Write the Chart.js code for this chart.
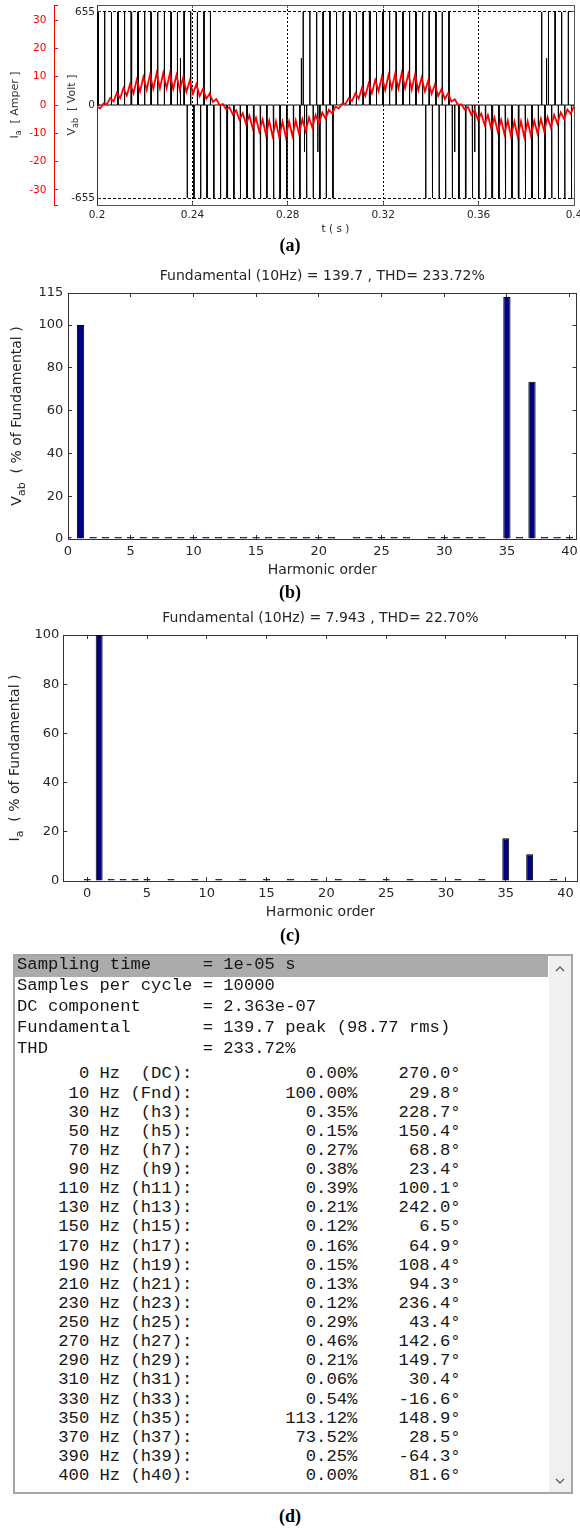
<!DOCTYPE html>
<html>
<head>
<meta charset="utf-8">
<title>Inverter waveforms and FFT</title>
<script src="https://cdn.jsdelivr.net/npm/chart.js@4.4.1/dist/chart.umd.min.js"></script>
<style>
  html, body { margin: 0; padding: 0; background: #fff; }
  body { position: relative; width: 580px; height: 1530px; overflow: hidden; }
  canvas { position: absolute; left: 0; }
  .cap { position: absolute; left: 0; width: 580px; text-align: center;
         font: bold 18px "Liberation Serif", serif; line-height: 20px; color: #000; }
  #fft { position: absolute; left: 13px; top: 954px; width: 560px; height: 540px;
         box-sizing: border-box; border: 2px solid #a6a6a6; background: #fff; overflow: hidden;
         font: 17.2px "Liberation Mono", monospace; color: #161616; }
  #fft .sel { position: absolute; left: 0; top: 0; width: 533px; height: 21px; background: #ababab; }
  #fft .bar { position: absolute; right: 0; top: 0; width: 22px; height: 100%; background: #f0f0f0; }
  #fft .bar svg { position: absolute; left: 6px; }
  #fft .rows { position: absolute; left: 2px; white-space: pre; }
</style>
</head>
<body>
<canvas id="waveChart" width="580" height="236" style="top:0px"></canvas>
<div class="cap" style="top:235px">(a)</div>
<canvas id="vabChart" width="580" height="321" style="top:258px"></canvas>
<div class="cap" style="top:582px">(b)</div>
<canvas id="iaChart" width="580" height="321" style="top:600px"></canvas>
<div class="cap" style="top:925px">(c)</div>
<div id="fft">
  <div class="sel"></div>
  <div class="bar">
    <svg width="10" height="7" style="top:9px"><polyline points="1,6 5,2 9,6" fill="none" stroke="#606060" stroke-width="1.4"/></svg>
    <svg width="10" height="7" style="top:522px"><polyline points="1,1 5,5 9,1" fill="none" stroke="#606060" stroke-width="1.4"/></svg>
  </div>
  <div class="rows" id="fftHead" style="top:-0.7px; line-height:20.8px"></div>
  <div class="rows" id="fftList" style="top:108.4px; line-height:19.12px"></div>
</div>
<div class="cap" style="top:1506px">(d)</div>

<script>
// ---- time-domain traces, 0.2 .. 0.4 s ----
const dcLinkVoltage = 655;
const timeTicks = [0.2, 0.24, 0.28, 0.32, 0.36, 0.4];
const voltTicks = [-655, 0, 655];
const currentTicks = [-30, -20, -10, 0, 10, 20, 30];

// switching pulses of Vab: [start time (s), width (s)]
const posPulses = [
  [0.2003, 0.0002], [0.2031, 0.0002], [0.2059, 0.00025], [0.2086, 0.00025], [0.2114, 0.00025], [0.2142, 0.0003],
  [0.2170, 0.0003], [0.2198, 0.0003], [0.2225, 0.0003], [0.2253, 0.00025], [0.2281, 0.00025], [0.2309, 0.00025],
  [0.2336, 0.0002], [0.2364, 0.0002], [0.2392, 0.00015], [0.2420, 0.00015], [0.2448, 0.0001], [0.2475, 0.0001],
  [0.2864, 0.0001], [0.2892, 0.0001], [0.2920, 0.00015], [0.2947, 0.00015], [0.2975, 0.0002], [0.3003, 0.0002],
  [0.3031, 0.00025], [0.3059, 0.00025], [0.3086, 0.00025], [0.3114, 0.0003], [0.3142, 0.0003], [0.3170, 0.0003],
  [0.3197, 0.0003], [0.3225, 0.0003], [0.3253, 0.00025], [0.3281, 0.00025], [0.3309, 0.00025], [0.3336, 0.0002],
  [0.3364, 0.0002], [0.3392, 0.00015], [0.3420, 0.00015], [0.3447, 0.0001], [0.3475, 0.0001],
  [0.3864, 0.0001], [0.3892, 0.00015], [0.3920, 0.00015], [0.3947, 0.0002], [0.3975, 0.0002]
];
const negPulses = [
  [0.2378, 0.0001], [0.2406, 0.0001], [0.2434, 0.00015], [0.2461, 0.00015], [0.2489, 0.0002], [0.2517, 0.0002],
  [0.2545, 0.00025], [0.2573, 0.00025], [0.2600, 0.00025], [0.2628, 0.0003], [0.2656, 0.0003], [0.2684, 0.0003],
  [0.2711, 0.0003], [0.2739, 0.0003], [0.2767, 0.00025], [0.2795, 0.00025], [0.2823, 0.00025], [0.2850, 0.0002],
  [0.2878, 0.0002], [0.2906, 0.00015], [0.2934, 0.00015], [0.2961, 0.0001], [0.2989, 0.0001],
  [0.3378, 0.0001], [0.3406, 0.0001], [0.3434, 0.00015], [0.3461, 0.00015], [0.3489, 0.0002], [0.3517, 0.0002],
  [0.3545, 0.00025], [0.3573, 0.00025], [0.3600, 0.00025], [0.3628, 0.0003], [0.3656, 0.0003], [0.3684, 0.0003],
  [0.3711, 0.0003], [0.3739, 0.0003], [0.3767, 0.00025], [0.3795, 0.00025], [0.3823, 0.00025], [0.3850, 0.0002],
  [0.3878, 0.0002], [0.3906, 0.00015], [0.3934, 0.00015], [0.3961, 0.0001], [0.3989, 0.0001]
];
// short half-height spikes: [time (s), level (V)]
const spikes = [[0.2350, 330], [0.2857, 330], [0.2870, -330], [0.2926, -330], [0.3500, -330], [0.3584, -330], [0.3885, 330]];

// phase current Ia (A), sampled every 1/720 s from 0.2 s
const sampleStep = 1 / 720;
const phaseCurrent = [
  -0.6, -1.2,
  0.6, 0.3, 2.5, 1.3, 4.3, 2.4, 6.0, 3.3, 7.5, 4.1, 8.9, 4.8, 9.9, 5.4, 10.7, 5.7,
  11.2, 5.9, 11.3, 5.9, 11.1, 5.6, 10.6, 5.3, 9.7, 4.7, 8.6, 4.0, 7.3, 3.1, 5.7, 2.2, 4.0, 1.1, 2.1, 0.0,
  0.3, -1.5, -0.8, -3.4, -1.9, -5.2, -2.9, -6.8, -3.7, -8.2, -4.5, -9.4, -5.1, -10.4, -5.6, -11.0,
  -5.8, -11.3, -5.9, -11.3, -5.8, -10.9, -5.5, -10.2, -5.0, -9.2, -4.4, -8.0, -3.6, -6.5, -2.7, -4.8, -1.7, -3.0, -0.6, -1.2,
  0.5, 0.4, 2.4, 1.4, 4.2, 2.3, 6.1, 3.2, 7.6, 4.2, 8.8, 4.9, 10.0, 5.3, 10.6, 5.8,
  11.1, 5.8, 11.4, 6.0, 11.0, 5.5, 10.7, 5.2, 9.6, 4.8, 8.7, 3.9, 7.2, 3.2, 5.6, 2.1, 4.1, 1.2, 2.0, 0.1,
  0.2, -1.6, -0.7, -3.5, -1.8, -5.1, -3.0, -6.9, -3.6, -8.3, -4.4, -9.5, -5.2, -10.3, -5.5, -11.1,
  -5.9, -11.2, -5.8, -11.4, -5.7, -10.8, -5.6, -10.1, -4.9, -9.3, -4.3, -7.9, -3.5, -6.6, -2.6, -4.9, -1.6, -3.1, -0.5
];

// ---- FFT of Vab (table listing) ----
const samplingInfo = [
  ['Sampling time', '1e-05 s'],
  ['Samples per cycle', '10000'],
  ['DC component', '2.363e-07'],
  ['Fundamental', '139.7 peak (98.77 rms)'],
  ['THD', '233.72%']
];
const harmonicFreq = [0, 10, 30, 50, 70, 90, 110, 130, 150, 170, 190, 210, 230, 250, 270, 290, 310, 330, 350, 370, 390, 400];
const harmonicName = ['DC', 'Fnd', 'h3', 'h5', 'h7', 'h9', 'h11', 'h13', 'h15', 'h17', 'h19', 'h21', 'h23', 'h25', 'h27', 'h29', 'h31', 'h33', 'h35', 'h37', 'h39', 'h40'];
const vabMag = [0.00, 100.00, 0.35, 0.15, 0.27, 0.38, 0.39, 0.21, 0.12, 0.16, 0.15, 0.13, 0.12, 0.29, 0.46, 0.21, 0.06, 0.54, 113.12, 73.52, 0.25, 0.00];
const vabPhase = [270.0, 29.8, 228.7, 150.4, 68.8, 23.4, 100.1, 242.0, 6.5, 64.9, 108.4, 94.3, 236.4, 43.4, 142.6, 149.7, 30.4, -16.6, 148.9, 28.5, -64.3, 81.6];

// ---- bar spectra, harmonic orders 0..40 ----
const harmonicOrder = [0, 1, 2, 3, 4, 5, 6, 7, 8, 9, 10, 11, 12, 13, 14, 15, 16, 17, 18, 19, 20,
  21, 22, 23, 24, 25, 26, 27, 28, 29, 30, 31, 32, 33, 34, 35, 36, 37, 38, 39, 40];
const orderTicks = [0, 5, 10, 15, 20, 25, 30, 35, 40];
// even orders of Vab are not in the listing, only tiny stubs on the plot
const vabEvenPct = [null, null, 0.05, null, 0.04, null, 0.05, null, 0.04, null, 0.05, null, 0.04, null, 0.05, null, 0.04, null, 0.05, null, 0.04,
  null, null, null, 0.05, null, 0.04, null, null, null, 0.05, null, 0.04, null, null, null, 0.05, null, 0.04, null, null];
const iaPct = [0.02, 100, 0.1, 0.1, 0.1, 0.05, null, 0.05, null, 0.05, null, 0.04, null, 0.03, null, 0.02, null, 0.02, null, 0.02, null,
  0.02, null, 0.01, null, 0.02, null, 0.03, null, 0.01, null, 0.01, null, 0.03, null, 17.4, null, 10.9, null, 0.01, null];
const vabFundamental = 139.7, vabThd = 233.72;
const iaFundamental = 7.943, iaThd = 22.70;

Chart.defaults.font.family = "'DejaVu Sans', sans-serif";
Chart.defaults.color = '#262626';

// rotated y captions that need a subscript
function rotatedLabel(items) {
  return {
    id: 'rotatedLabel',
    afterDraw(chart) {
      const ctx = chart.ctx;
      const midY = (chart.chartArea.top + chart.chartArea.bottom) / 2;
      items.forEach(item => {
        const big = item.size + "px 'DejaVu Sans'";
        const small = Math.round(item.size * 0.75) + "px 'DejaVu Sans'";
        ctx.save();
        ctx.translate(item.x, midY);
        ctx.rotate(-Math.PI / 2);
        ctx.fillStyle = item.color;
        ctx.textBaseline = 'middle';
        ctx.textAlign = 'left';
        let total = 0;
        item.parts.forEach(p => { ctx.font = p.sub ? small : big; total += ctx.measureText(p.text).width; });
        let pos = -total / 2;
        item.parts.forEach(p => {
          ctx.font = p.sub ? small : big;
          ctx.fillText(p.text, pos, p.sub ? item.size * 0.38 : 0);
          pos += ctx.measureText(p.text).width;
        });
        ctx.restore();
      });
    }
  };
}

// fixed axis boxes, and no extra room reserved for half-width end labels
const fixHeight = h => s => { s.height = h; s.paddingLeft = 0; s.paddingRight = 0; };
const fixWidth = w => s => { s.width = w; s.paddingTop = 0; s.paddingBottom = 0; };

// voltage trace as a polyline with vertical switching edges
const pulseEvents = [
  ...posPulses.map(([t, w]) => ({ t, w, v: dcLinkVoltage })),
  ...negPulses.map(([t, w]) => ({ t, w, v: -dcLinkVoltage })),
  ...spikes.map(([t, v]) => ({ t, w: 0, v }))
].sort((a, b) => a.t - b.t);
const voltagePoints = [{ x: 0.2, y: 0 }];
pulseEvents.forEach(e => {
  voltagePoints.push({ x: e.t, y: 0 }, { x: e.t, y: e.v }, { x: e.t + e.w, y: e.v }, { x: e.t + e.w, y: 0 });
});
voltagePoints.push({ x: 0.4, y: 0 });
const currentPoints = phaseCurrent.map((v, k) => ({ x: 0.2 + k * sampleStep, y: v }));

const tickFontA = { size: 10.5 };
const frameGrey = '#555555';
const clear = 'rgba(0,0,0,0)';

new Chart(document.getElementById('waveChart'), {
  type: 'line',
  data: {
    datasets: [
      { data: currentPoints, yAxisID: 'yI', borderColor: '#ff0000', borderWidth: 1.8, pointRadius: 0, tension: 0 },
      { data: voltagePoints, yAxisID: 'y', borderColor: '#000000', borderWidth: 1, pointRadius: 0, tension: 0 }
    ]
  },
  options: {
    responsive: false, animation: false, devicePixelRatio: 1, events: [],
    layout: { padding: { top: 5, right: 6, left: 0, bottom: 0 } },
    plugins: { legend: { display: false }, tooltip: { enabled: false } },
    scales: {
      x: {
        type: 'linear', position: 'bottom', min: 0.2, max: 0.4,
        afterBuildTicks: s => { s.ticks = timeTicks.map(v => ({ value: v })); },
        afterFit: fixHeight(31),
        ticks: { font: tickFontA, padding: 7.4, maxRotation: 0, autoSkip: false,
                 callback: v => String(Number(v.toFixed(2))) },
        grid: { color: c => (c.tick && c.tick.value > 0.201 && c.tick.value < 0.399) ? '#000' : clear,
                tickColor: frameGrey, tickLength: -3 },
        border: { color: frameGrey, dash: [2, 2] },
        title: { display: true, text: 't ( s )', font: { size: 10.5 }, padding: { top: 0, bottom: 0 } }
      },
      xTop: {
        type: 'linear', position: 'top', min: 0.2, max: 0.4,
        afterBuildTicks: s => { s.ticks = timeTicks.map(v => ({ value: v })); },
        afterFit: fixHeight(0),
        ticks: { display: false },
        grid: { drawOnChartArea: false, color: frameGrey, tickLength: -3 },
        border: { color: frameGrey }
      },
      y: {
        type: 'linear', position: 'left', weight: 0, min: -704, max: 704,
        afterBuildTicks: s => { s.ticks = voltTicks.map(v => ({ value: v })); },
        afterFit: fixWidth(43),
        ticks: { font: tickFontA, padding: 5, callback: v => String(v) },
        grid: { color: c => (c.tick && c.tick.value !== 0) ? '#000' : clear, tickColor: frameGrey, tickLength: -3 },
        border: { color: '#333333', dash: [3, 2] }
      },
      yRight: {
        type: 'linear', position: 'right', min: -704, max: 704,
        afterBuildTicks: s => { s.ticks = voltTicks.map(v => ({ value: v })); },
        afterFit: fixWidth(0),
        ticks: { display: false },
        grid: { drawOnChartArea: false, color: frameGrey, tickLength: -3 },
        border: { color: frameGrey }
      },
      yI: {
        type: 'linear', position: 'left', weight: 1, min: -35.3, max: 35.3,
        afterBuildTicks: s => { s.ticks = [-35.3, ...currentTicks, 35.3].map(v => ({ value: v })); },
        afterFit: fixWidth(54),
        ticks: { font: tickFontA, color: '#ff0000', padding: 11.6,
                 callback: v => currentTicks.includes(v) ? String(v) : '' },
        grid: { drawOnChartArea: false, color: '#ff0000', tickLength: -4 },
        border: { color: '#ff0000' }
      }
    }
  },
  plugins: [rotatedLabel([
    { x: 15, size: 11, color: '#333333', parts: [{ text: 'I' }, { text: 'a', sub: true }, { text: '  [ Amper ]' }] },
    { x: 72, size: 11, color: '#333333', parts: [{ text: 'V' }, { text: 'ab', sub: true }, { text: '  [ Volt ]' }] }
  ])]
});

// spectrum bar chart, harmonic order on a linear axis
function harmonicChart(canvasId, values, cfg) {
  const axisLine = '#333333';
  return new Chart(document.getElementById(canvasId), {
    type: 'bar',
    data: {
      datasets: [{
        data: harmonicOrder.map((h, i) => ({ x: h, y: values[i] })),
        backgroundColor: '#000080', borderColor: '#000000', borderWidth: 1,
        categoryPercentage: 1, barPercentage: 0.58, minBarLength: 2
      }]
    },
    options: {
      responsive: false, animation: false, devicePixelRatio: 1, events: [],
      layout: { padding: { top: 0, right: cfg.padRight, left: 0, bottom: 0 } },
      plugins: {
        legend: { display: false }, tooltip: { enabled: false },
        title: { display: true, text: cfg.title, fullSize: false, color: '#262626',
                 font: { size: 14, weight: 'normal' }, padding: { top: 10.1, bottom: 8.1 } }
      },
      scales: {
        x: {
          type: 'linear', position: 'bottom', min: cfg.xMin, max: cfg.xMax, offset: false,
          afterBuildTicks: s => { s.ticks = orderTicks.map(v => ({ value: v })); },
          afterFit: fixHeight(40),
          ticks: { font: { size: 13 }, padding: 8.9, maxRotation: 0, autoSkip: false },
          grid: { offset: false, drawOnChartArea: false, color: axisLine, tickLength: -4 },
          border: { color: axisLine },
          title: { display: true, text: 'Harmonic order', font: { size: 14 }, padding: { top: 0, bottom: 0.6 } }
        },
        xTop: {
          type: 'linear', position: 'top', min: cfg.xMin, max: cfg.xMax, offset: false,
          afterBuildTicks: s => { s.ticks = orderTicks.map(v => ({ value: v })); },
          afterFit: fixHeight(0),
          ticks: { display: false },
          grid: { offset: false, drawOnChartArea: false, color: axisLine, tickLength: -4 },
          border: { color: axisLine }
        },
        y: {
          type: 'linear', position: 'left', min: 0, max: cfg.yMax,
          afterBuildTicks: s => { s.ticks = cfg.yTicks.map(v => ({ value: v })); },
          afterFit: fixWidth(cfg.left),
          ticks: { font: { size: 13 }, padding: cfg.yPad },
          grid: { drawOnChartArea: false, color: axisLine, tickLength: -4 },
          border: { color: axisLine }
        },
        yRight: {
          type: 'linear', position: 'right', min: 0, max: cfg.yMax,
          afterBuildTicks: s => { s.ticks = cfg.yTicks.map(v => ({ value: v })); },
          afterFit: fixWidth(0),
          ticks: { display: false },
          grid: { drawOnChartArea: false, color: axisLine, tickLength: -4 },
          border: { color: axisLine }
        }
      }
    },
    plugins: [rotatedLabel([{ x: cfg.titleX, size: 14, color: '#262626', parts: cfg.yTitle }])]
  });
}

// Vab spectrum: listed harmonics from the table, even-order stubs from vabEvenPct
const harmonicNum = harmonicFreq.map(f => f / 10);
const vabPct = harmonicOrder.map(h => {
  const k = harmonicNum.indexOf(h);
  return k >= 0 ? vabMag[k] : vabEvenPct[h];
});

harmonicChart('vabChart', vabPct, {
  title: `Fundamental (10Hz) = ${vabFundamental} , THD= ${vabThd.toFixed(2)}%`,
  xMin: 0, xMax: 40.55, yMax: 115, yTicks: [0, 20, 40, 60, 80, 100, 115],
  left: 68, padRight: 3.5, yPad: 8.7, titleX: 17,
  yTitle: [{ text: 'V' }, { text: 'ab', sub: true }, { text: '  ( % of Fundamental )' }]
});

harmonicChart('iaChart', iaPct, {
  title: `Fundamental (10Hz) = ${iaFundamental} , THD= ${iaThd.toFixed(2)}%`,
  xMin: -2, xMax: 41, yMax: 100, yTicks: [0, 20, 40, 60, 80, 100],
  left: 63.3, padRight: 2.5, yPad: 8, titleX: 15,
  yTitle: [{ text: 'I' }, { text: 'a', sub: true }, { text: '  ( % of Fundamental )' }]
});

// FFT listing text
document.getElementById('fftHead').textContent =
  samplingInfo.map(([name, val]) => name.padEnd(18) + '= ' + val).join('\n');
document.getElementById('fftList').textContent = harmonicFreq.map((f, i) =>
  String(f).padStart(7) + ' Hz' +
  ('(' + harmonicName[i] + '):').padStart(7) +
  (vabMag[i].toFixed(2) + '%').padStart(16) +
  (vabPhase[i].toFixed(1) + '°').padStart(10)
).join('\n');
</script>
</body>
</html>
